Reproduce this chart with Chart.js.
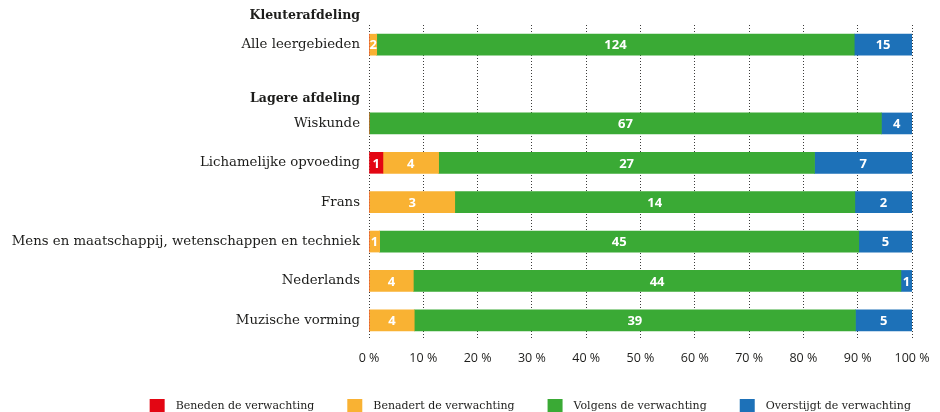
<!DOCTYPE html>
<html lang="nl">
<head>
<meta charset="utf-8">
<title>Verwachtingen per leergebied</title>
<script src="https://cdn.jsdelivr.net/npm/chart.js@4.4.1/dist/chart.umd.min.js"></script>
<style>
  html, body { margin: 0; padding: 0; background: #fff; }
  #wrap { width: 940px; height: 412px; }
</style>
</head>
<body>
<div id="wrap"><canvas id="chart" width="940" height="412"></canvas></div>
<script>
// Rows (an empty row separates the two departments)
const categories = [
  "Alle leergebieden",
  "",
  "Wiskunde",
  "Lichamelijke opvoeding",
  "Frans",
  "Mens en maatschappij, wetenschappen en techniek",
  "Nederlands",
  "Muzische vorming"
];

// Department headers and the row they sit above
const headers = ["Kleuterafdeling", "Lagere afdeling"];
const headerRows = [0, 2];

// Counts per category
const beneden = [0, null, 0, 1, 0, 0, 0, 0];
const benadert = [2, null, 0, 4, 3, 1, 4, 4];
const volgens = [124, null, 67, 27, 14, 45, 44, 39];
const overstijgt = [15, null, 4, 7, 2, 5, 1, 5];

const xTicks = [0, 10, 20, 30, 40, 50, 60, 70, 80, 90, 100];

const seriesNames = ["Beneden de verwachting", "Benadert de verwachting", "Volgens de verwachting", "Overstijgt de verwachting"];
const seriesColors = ["#e30613", "#f9b233", "#3aaa35", "#1d71b8"];

const TEXT = "#1d1d1b";
const SERIF = "'DejaVu Serif', serif";
const SANS = "'Open Sans', sans-serif";

// Turn counts into shares of the row total
const counts = [beneden, benadert, volgens, overstijgt];
const totals = categories.map((_, i) => counts.reduce((s, arr) => s + (arr[i] || 0), 0));
const toPct = arr => arr.map((v, i) => (v == null || !totals[i]) ? null : v / totals[i] * 100);

// Count labels in the middle of each segment
const valueLabels = {
  id: "valueLabels",
  afterDatasetsDraw(chart) {
    const ctx = chart.ctx;
    ctx.save();
    ctx.fillStyle = "#fff";
    ctx.font = "bold 13px " + SANS;
    ctx.textAlign = "center";
    ctx.textBaseline = "middle";
    chart.data.datasets.forEach((ds, d) => {
      chart.getDatasetMeta(d).data.forEach((bar, i) => {
        const n = ds.counts[i];
        if (!n) return;
        ctx.fillText(String(n), (bar.x + bar.base) / 2, bar.y + 1);
      });
    });
    ctx.restore();
  }
};

// Bold department headers above their first row
const groupHeaders = {
  id: "groupHeaders",
  afterDraw(chart) {
    const y = chart.scales.y;
    const ctx = chart.ctx;
    const offsets = [29, 25];
    ctx.save();
    ctx.fillStyle = TEXT;
    ctx.font = "bold 12.5px " + SERIF;
    ctx.textAlign = "right";
    ctx.textBaseline = "middle";
    headers.forEach((h, k) => {
      ctx.fillText(h, y.right - 9, y.getPixelForValue(headerRows[k]) - offsets[k]);
    });
    ctx.restore();
  }
};

new Chart(document.getElementById("chart"), {
  type: "bar",
  data: {
    labels: categories,
    datasets: counts.map((arr, d) => ({
      label: seriesNames[d],
      data: toPct(arr),
      counts: arr,
      backgroundColor: seriesColors[d],
      borderWidth: 0,
      barThickness: 21
    }))
  },
  options: {
    indexAxis: "y",
    responsive: false,
    animation: false,
    layout: { padding: { top: 25, right: -4, left: 0, bottom: -12 } },
    scales: {
      x: {
        stacked: true,
        min: 0,
        max: 100,
        afterBuildTicks(s) { s.ticks = xTicks.map(v => ({ value: v })); },
        afterFit(s) { s.paddingRight = 28; s.height = 26; },
        grid: { color: "#3c3c3b", lineWidth: 1, drawTicks: false },
        border: { display: false, dash: [1, 2] },
        ticks: {
          color: TEXT,
          padding: 11,
          maxRotation: 0,
          font: { family: SANS, size: 12.5 },
          callback: v => v + " %"
        }
      },
      y: {
        stacked: true,
        afterFit(s) { s.width = 369; },
        grid: { display: false, drawTicks: false },
        border: { display: false },
        ticks: {
          color: TEXT,
          padding: 9,
          font: { family: SERIF, size: 13.3 }
        }
      }
    },
    plugins: {
      legend: {
        position: "bottom",
        align: "end",
        labels: {
          color: TEXT,
          boxWidth: 15,
          boxHeight: 15,
          padding: 33,
          font: { family: SERIF, size: 11 },
          // wider gap between swatch and text
          generateLabels(chart) {
            return Chart.defaults.plugins.legend.labels.generateLabels(chart)
              .map(item => Object.assign(item, { text: "\u2002" + item.text }));
          }
        }
      },
      tooltip: { enabled: false }
    }
  },
  plugins: [valueLabels, groupHeaders]
});
</script>
</body>
</html>
